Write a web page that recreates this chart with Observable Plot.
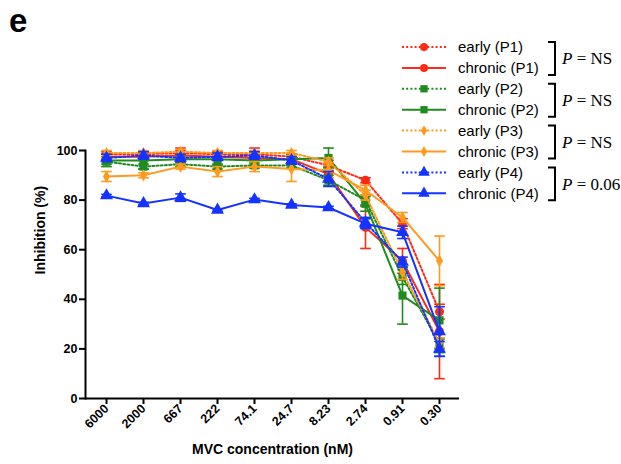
<!DOCTYPE html>
<html>
<head>
<meta charset="utf-8">
<script src="https://cdn.jsdelivr.net/npm/d3@7"></script>
<script src="https://cdn.jsdelivr.net/npm/@observablehq/plot@0.6"></script>
<style>
  html, body { margin: 0; padding: 0; background: #fff; }
  #wrap { position: relative; width: 621px; height: 464px; font-family: "Liberation Sans", Arial, sans-serif; }
  #panel { position: absolute; left: 9px; top: 4px; line-height: 1; font: bold 33px/1 "Liberation Sans", Arial, sans-serif; }
  #legend { position: absolute; left: 0; top: 0; pointer-events: none; }
</style>
</head>
<body>
<div id="wrap">
  <div id="chart"></div>
  <div id="panel">e</div>
  <svg id="legend" width="621" height="464"></svg>
</div>
<script>
// ---- data ----
const conc = ["6000", "2000", "667", "222", "74.1", "24.7", "8.23", "2.74", "0.91", "0.30"];
const yTicks = [0, 20, 40, 60, 80, 100];
const xLabel = "MVC concentration (nM)";
const yLabel = "Inhibition (%)";

const earlyP1      = [98.5, 98.5, 99, 98.5, 98.5, 97.5, 94, 88, 70.5, 35];
const earlyP1Err   = [1, 1, 1, 1, 1, 1, 2, 1, 2, 3];
const chronicP1    = [97.5, 97.5, 98, 97.5, 97, 96.5, 90.5, 69, 55.5, 27];
const chronicP1Err = [1, 1.5, 3, 1.5, 4, 2, 3, 8.5, 5, 19];
const earlyP2      = [95.5, 93.5, 94.5, 93.5, 94, 94, 88, 80, 49, 22];
const earlyP2Err   = [1, 1, 1, 1, 1, 1, 2, 2, 3, 2];
const chronicP2    = [96, 96, 96.5, 96.5, 96, 96.5, 97, 78.5, 41.5, 31.5];
const chronicP2Err = [2.5, 3.5, 2, 2.5, 2, 2, 4, 3, 11.5, 13];
const earlyP3      = [99, 99, 99.5, 99, 99, 99, 95.5, 82, 51, 22.5];
const earlyP3Err   = [1, 1, 1, 1, 1, 1, 1.5, 2, 3, 2];
const chronicP3    = [89.5, 90, 93.5, 91.5, 93.5, 92.5, 92, 84, 73, 55.5];
const chronicP3Err = [2, 1, 1, 2, 2, 5, 3, 2, 2, 10];
const earlyP4      = [97, 98, 97, 97.5, 98, 96, 88.5, 71, 55, 20];
const earlyP4Err   = [1.5, 1.5, 1.5, 1.5, 1.5, 1.5, 3, 2, 2, 3];
const chronicP4    = [81.8, 78.6, 81, 76, 80.2, 78, 77, 70.5, 67, 27];
const chronicP4Err = [0.5, 0.5, 1.5, 0.5, 0.5, 0.5, 0.5, 2, 2.5, 10];

const groupP = ["P = NS", "P = NS", "P = NS", "P = 0.06"];

// ---- styles ----
const RED = "#FF2A14", GREEN = "#1E8C1E", ORANGE = "#FF9A1E", BLUE = "#1433FF";
const series = [
  {name: "early (P1)",   v: earlyP1,   e: earlyP1Err,   color: RED,    dotted: true,  symbol: "circle",  r: 4.5},
  {name: "chronic (P1)", v: chronicP1, e: chronicP1Err, color: RED,    dotted: false, symbol: "circle",  r: 4.5},
  {name: "early (P2)",   v: earlyP2,   e: earlyP2Err,   color: GREEN,  dotted: true,  symbol: "square",  r: 4.6},
  {name: "chronic (P2)", v: chronicP2, e: chronicP2Err, color: GREEN,  dotted: false, symbol: "square",  r: 4.6},
  {name: "early (P3)",   v: earlyP3,   e: earlyP3Err,   color: ORANGE, dotted: true,  symbol: "diamond", r: 3.7},
  {name: "chronic (P3)", v: chronicP3, e: chronicP3Err, color: ORANGE, dotted: false, symbol: "diamond", r: 3.7},
  {name: "early (P4)",   v: earlyP4,   e: earlyP4Err,   color: BLUE,   dotted: true,  symbol: "triangle", r: 4.8},
  {name: "chronic (P4)", v: chronicP4, e: chronicP4Err, color: BLUE,   dotted: false, symbol: "triangle", r: 4.8}
];

const capSymbol = { draw(ctx, size) { const w = Math.sqrt(size) * 0.75; ctx.moveTo(-w, 0); ctx.lineTo(w, 0); } };

const marks = [];
for (const s of series) {
  const rows = conc.map((c, i) => ({conc: c, value: s.v[i], lo: s.v[i] - s.e[i], hi: s.v[i] + s.e[i]}));
  marks.push(Plot.ruleX(rows, {x: "conc", y1: "lo", y2: "hi", stroke: s.color, strokeWidth: 1.6}));
  marks.push(Plot.dot(rows, {x: "conc", y: "lo", symbol: capSymbol, r: 4, stroke: s.color, strokeWidth: 1.6}));
  marks.push(Plot.dot(rows, {x: "conc", y: "hi", symbol: capSymbol, r: 4, stroke: s.color, strokeWidth: 1.6}));
  marks.push(Plot.line(rows, {x: "conc", y: "value", stroke: s.color, strokeWidth: 2,
    strokeDasharray: s.dotted ? "2,2.2" : null}));
  marks.push(Plot.dot(rows, {x: "conc", y: "value", symbol: s.symbol, r: s.r, fill: s.color, stroke: "none"}));
}

const chart = Plot.plot({
  width: 621,
  height: 464,
  marginLeft: 85,
  marginRight: 162,
  marginTop: 150,
  marginBottom: 66,
  style: {fontFamily: "'Liberation Sans', Arial, sans-serif", fontSize: "12px", fontWeight: "bold", color: "#000", background: "#fff"},
  x: {type: "point", domain: conc, padding: 0.5},
  y: {domain: [0, 100]},
  marks: [
    ...marks,
    Plot.ruleY([0], {stroke: "#000", strokeWidth: 2}),
    Plot.frame({anchor: "left", stroke: "#000", strokeWidth: 2}),
    Plot.axisY({ticks: yTicks, tickSize: 6, tickPadding: 2, strokeWidth: 2, fontSize: 12.5, fontWeight: "bold", label: null}),
    Plot.axisX({tickSize: 6, tickRotate: -45, tickPadding: 2, strokeWidth: 2, fontSize: 12.5, fontWeight: "bold", label: null}),
    Plot.text([xLabel], {text: d => d, frameAnchor: "bottom", dy: 55, fontSize: 14, fontWeight: "bold", fill: "#000"}),
    Plot.text([yLabel], {text: d => d, frameAnchor: "left", dx: -45, rotate: -90, fontSize: 14, fontWeight: "bold", fill: "#000"})
  ]
});
document.getElementById("chart").appendChild(chart);

// ---- legend ----
const lg = d3.select("#legend");
const rowY = i => 47 + i * 20.9;
series.forEach((s, i) => {
  const y = rowY(i);
  const g = lg.append("g");
  g.append("line").attr("x1", 402).attr("x2", 446).attr("y1", y).attr("y2", y)
    .attr("stroke", s.color).attr("stroke-width", 2)
    .attr("stroke-dasharray", s.dotted ? "2,2.2" : null);
  const sym = {circle: d3.symbolCircle, square: d3.symbolSquare, diamond: d3.symbolDiamond, triangle: d3.symbolTriangle}[s.symbol];
  g.append("path").attr("transform", `translate(424,${y})`)
    .attr("d", d3.symbol(sym, Math.PI * s.r * s.r * 0.8)())
    .attr("fill", s.color);
  g.append("text").attr("x", 458).attr("y", y).attr("dy", "0.35em")
    .attr("font-family", "'Liberation Sans', Arial, sans-serif").attr("font-size", 15)
    .text(s.name);
});
groupP.forEach((p, k) => {
  const y0 = rowY(2 * k) - 5, y1 = rowY(2 * k + 1) + 7;
  lg.append("path").attr("d", `M548,${y0}H555V${y1}H548`).attr("fill", "none").attr("stroke", "#000").attr("stroke-width", 2);
  const [lhs, rhs] = p.split(" = ");
  const t = lg.append("text").attr("x", 562).attr("y", (y0 + y1) / 2).attr("dy", "0.35em")
    .attr("font-family", "'Liberation Serif', 'Times New Roman', serif").attr("font-size", 17);
  t.append("tspan").attr("font-style", "italic").text(lhs);
  t.append("tspan").text(" = " + rhs);
});
</script>
</body>
</html>
